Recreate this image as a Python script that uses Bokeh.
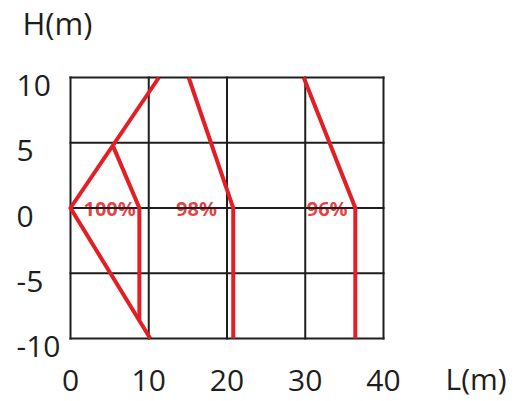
from bokeh.plotting import figure
from bokeh.models import Range1d
from bokeh.embed import file_html
from bokeh.resources import INLINE
from bokeh.core.properties import value

# ---- data ----
x_ticks = [0, 10, 20, 30, 40]
x_tick_labels = ["0", "10", "20", "30", "40"]
y_ticks = [-10, -5, 0, 5, 10]
y_tick_labels = ["-10", "-5", "0", "5", "10"]
x_title = "L(m)"
y_title = "H(m)"

line100_outer_x = [11.3, 0, 10.2]
line100_outer_y = [10, 0, -10]
line100_inner_x = [5.4, 8.8, 8.8]
line100_inner_y = [4.8, 0, -8.6]
line98_x = [15.1, 20.8, 20.8]
line98_y = [10, 0, -10]
line96_x = [29.8, 36.4, 36.4]
line96_y = [10, 0, -10]

pct_labels = ["100%", "98%", "96%"]
pct_x = [5.0, 16.1, 32.8]
pct_y = [0, 0, 0]

# ---- layout (pixels) ----
W, H = 526, 401
FL, FR, FT, FB = 70, 383, 77, 338   # grid box edges on the canvas
X0, X1 = x_ticks[0], x_ticks[-1]
Y0, Y1 = y_ticks[0], y_ticks[-1]
sx = (FR - FL) / (X1 - X0)
sy = (FB - FT) / (Y1 - Y0)
xr = Range1d(X0 - FL / sx, X1 + (W - FR) / sx)
yr = Range1d(Y0 - (H - FB) / sy, Y1 + FT / sy)

FONT = "Open Sans"
RED = "#e31e24"
INK = "#1e1e1e"

p = figure(width=W, height=H, output_backend="svg", toolbar_location=None,
           x_range=xr, y_range=yr,
           min_border_left=0, min_border_right=0, min_border_top=0,
           min_border_bottom=0)
p.background_fill_color = "white"
p.border_fill_color = "white"
p.outline_line_color = None
p.axis.visible = False
p.grid.visible = False

# percentage labels (grid lines pass over them, as in the reference)
p.text(x=pct_x, y=pct_y, text=pct_labels, text_font=value(FONT),
       text_font_size="20px", text_font_style="bold", text_color=RED,
       text_align="center", text_baseline="middle", text_alpha=0.85)

# grid box, drawn from the tick values
p.segment(x0=x_ticks, y0=[Y0] * len(x_ticks), x1=x_ticks, y1=[Y1] * len(x_ticks),
          line_color=INK, line_width=2, line_cap="square")
p.segment(x0=[X0] * len(y_ticks), y0=y_ticks, x1=[X1] * len(y_ticks), y1=y_ticks,
          line_color=INK, line_width=2, line_cap="square")

for xs, ys in ((line100_outer_x, line100_outer_y), (line100_inner_x, line100_inner_y),
               (line98_x, line98_y), (line96_x, line96_y)):
    p.line(xs, ys, line_color=RED, line_width=4, line_join="miter")

# tick labels
p.text(x=[X0] * len(y_ticks), y=y_ticks, text=y_tick_labels, text_font=value(FONT),
       text_font_size="30px", text_color=INK, text_align="left",
       text_baseline="alphabetic", x_offset=-54, y_offset=8)
p.text(x=x_ticks, y=[Y0] * len(x_ticks), text=x_tick_labels, text_font=value(FONT),
       text_font_size="30px", text_color=INK, text_align="center",
       text_baseline="alphabetic", y_offset=42)

# axis titles
p.text(x=[X0], y=[Y1], text=[y_title], text_font=value(FONT),
       text_font_size="31px", text_color=INK, text_align="left",
       text_baseline="alphabetic", x_offset=-48, y_offset=-55)
p.text(x=[X1], y=[Y0], text=[x_title], text_font=value(FONT),
       text_font_size="30px", text_color=INK, text_align="left",
       text_baseline="alphabetic", x_offset=62, y_offset=40)

open("out.html", "w").write(file_html(p, INLINE))
